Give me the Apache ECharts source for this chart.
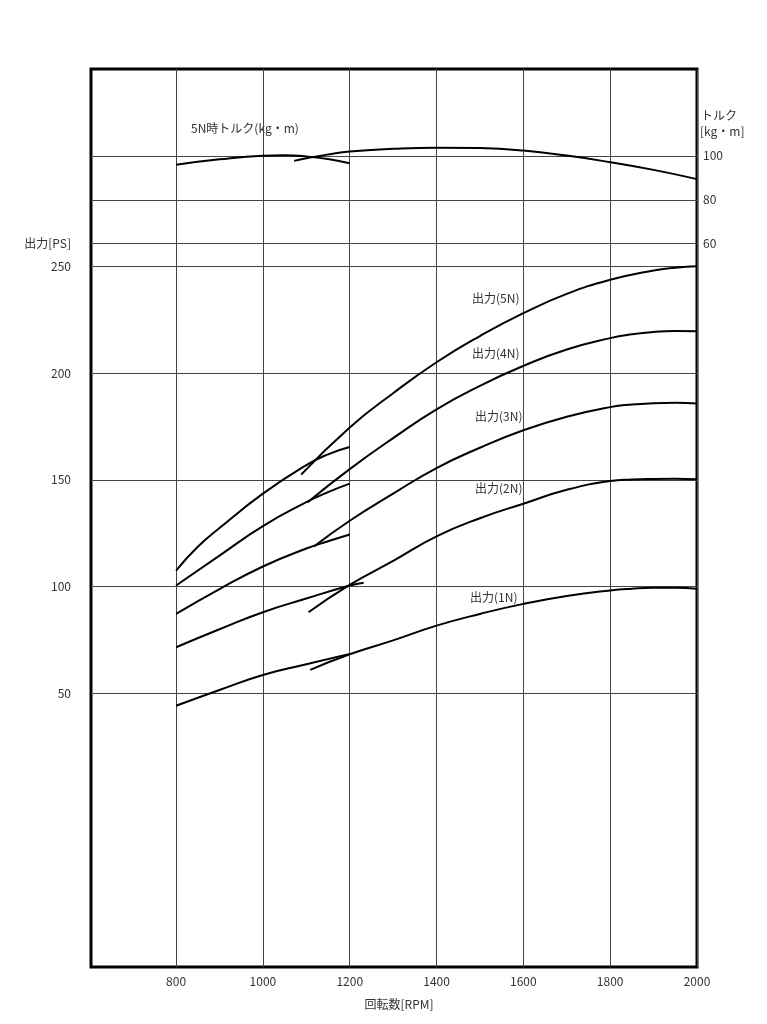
<!DOCTYPE html>
<html>
<head>
<meta charset="utf-8">
<script src="https://cdn.jsdelivr.net/npm/echarts@6/dist/echarts.min.js"></script>
<style>
  html, body { margin: 0; padding: 0; background: #fff; }
  #chart { width: 767px; height: 1024px; }
</style>
</head>
<body>
<div id="chart"></div>
<script>
// tick values
const rpmTicks = [800, 1000, 1200, 1400, 1600, 1800, 2000];
const psTicks = [50, 100, 150, 200, 250];
const torqueTicks = [60, 80, 100];

// torque at 5N (kg・m), two segments
const torqueLowRpm = [800, 900, 1000, 1050, 1100, 1150, 1200];
const torqueLow = [95.9, 98.4, 100.0, 100.2, 99.7, 98.5, 96.6];
const torqueHighRpm = [1072, 1100, 1150, 1200, 1300, 1400, 1500, 1600, 1700, 1800, 1900, 2000];
const torqueHigh = [97.7, 98.9, 100.6, 102.0, 103.2, 103.7, 103.5, 102.4, 100.1, 97.1, 93.6, 89.4];

// power (PS), low / high segments per notch
const p5LowRpm = [800, 850, 900, 1000, 1100, 1150, 1200];
const p5Low = [107.5, 118.6, 127.4, 143.5, 156.9, 161.9, 165.3];
const p5HighRpm = [1088, 1200, 1300, 1400, 1500, 1600, 1700, 1800, 1900, 1950, 2000];
const p5High = [152.4, 174.5, 190.5, 205, 217.3, 228.0, 237, 243.6, 248.0, 249.3, 250];

const p4LowRpm = [800, 900, 1000, 1100, 1150, 1200];
const p4Low = [100.5, 114.5, 128.3, 139.5, 144.2, 148.2];
const p4HighRpm = [1103, 1200, 1300, 1400, 1500, 1600, 1700, 1800, 1850, 1900, 1950, 2000];
const p4High = [139.5, 155, 169.5, 183, 194, 203.3, 211, 216.3, 218.1, 219.2, 219.6, 219.5];

const p3LowRpm = [800, 900, 1000, 1100, 1150, 1200];
const p3Low = [87.2, 98.8, 109.4, 117.8, 121.2, 124.4];
const p3HighRpm = [1118, 1200, 1300, 1400, 1500, 1600, 1700, 1800, 1850, 1900, 1950, 2000];
const p3High = [118.8, 130.8, 143.5, 155.5, 165, 173.2, 179.5, 184.0, 185.2, 185.8, 186.0, 185.7];

const p2LowRpm = [800, 900, 1000, 1100, 1200, 1232];
const p2Low = [71.6, 80.0, 88.0, 94.4, 100.5, 101.8];
const p2HighRpm = [1105, 1200, 1300, 1400, 1500, 1600, 1700, 1800, 1850, 1900, 1950, 2000];
const p2High = [88, 100.8, 112, 123.5, 132, 138.8, 145.3, 149.4, 150.1, 150.4, 150.5, 150.2];

const p1LowRpm = [800, 900, 1000, 1100, 1200];
const p1Low = [44.2, 51.6, 58.6, 63.6, 68.5];
const p1HighRpm = [1109, 1200, 1300, 1400, 1500, 1600, 1700, 1800, 1850, 1900, 1950, 2000];
const p1High = [61, 68.3, 74.8, 81.7, 87.2, 91.9, 95.6, 98.2, 99.0, 99.4, 99.4, 99.0];

const curveLabels = ['出力(5N)', '出力(4N)', '出力(3N)', '出力(2N)', '出力(1N)'];

const FONT = '"Noto Sans CJK JP", "Noto Sans", sans-serif';
const TEXT = '#333';
const GRID_LINE = { color: '#444', width: 1, type: 'solid' };

const zip = (xs, ys) => xs.map((x, i) => [x, ys[i]]);

const curve = (name, xs, ys, axis) => ({
  name,
  type: 'line',
  yAxisIndex: axis,
  data: zip(xs, ys),
  smooth: true,
  showSymbol: false,
  lineStyle: { color: '#000', width: 2 },
  z: 5
});

const chart = echarts.init(document.getElementById('chart'));

const series = [
  curve('t-low', torqueLowRpm, torqueLow, 1),
  curve('t-high', torqueHighRpm, torqueHigh, 1),
  curve('5n-low', p5LowRpm, p5Low, 0),
  curve('5n-high', p5HighRpm, p5High, 0),
  curve('4n-low', p4LowRpm, p4Low, 0),
  curve('4n-high', p4HighRpm, p4High, 0),
  curve('3n-low', p3LowRpm, p3Low, 0),
  curve('3n-high', p3HighRpm, p3High, 0),
  curve('2n-low', p2LowRpm, p2Low, 0),
  curve('2n-high', p2HighRpm, p2High, 0),
  curve('1n-low', p1LowRpm, p1Low, 0),
  curve('1n-high', p1HighRpm, p1High, 0)
];

// grid lines as mark lines
series.push({
  name: 'grid-ps',
  type: 'line',
  yAxisIndex: 0,
  data: [],
  z: 1,
  markLine: {
    silent: true,
    symbol: 'none',
    label: { show: false },
    lineStyle: GRID_LINE,
    data: rpmTicks.map(v => ({ xAxis: v })).concat(psTicks.map(v => ({ yAxis: v })))
  }
});
series.push({
  name: 'grid-torque',
  type: 'line',
  yAxisIndex: 1,
  data: [],
  z: 1,
  markLine: {
    silent: true,
    symbol: 'none',
    label: { show: false },
    lineStyle: GRID_LINE,
    data: torqueTicks.map(v => ({ yAxis: v }))
  }
});

const labelText = (text, x, y, align) => ({
  type: 'text',
  style: {
    text, x, y,
    textAlign: align || 'left',
    textVerticalAlign: 'middle',
    fill: TEXT,
    font: '12px ' + FONT
  }
});

chart.setOption({
  animation: false,
  backgroundColor: '#fff',
  textStyle: { fontFamily: FONT },
  grid: {
    left: 91, right: 70, top: 69, bottom: 57,
    show: true,
    borderColor: '#000',
    borderWidth: 3,
    backgroundColor: 'transparent'
  },
  xAxis: {
    type: 'value',
    min: 604,
    max: 2000,
    name: '回転数[RPM]',
    nameLocation: 'middle',
    nameGap: 31,
    nameTextStyle: { color: TEXT, fontSize: 12, padding: [0, 0, 0, 10] },
    axisLine: { show: false },
    axisTick: { show: false },
    splitLine: { show: false },
    axisLabel: {
      customValues: rpmTicks,
      formatter: v => String(v),
      color: TEXT, fontSize: 12, margin: 8
    }
  },
  yAxis: [
    {
      type: 'value',
      position: 'left',
      min: -78.1,
      max: 342.3,
      axisLine: { show: false },
      axisTick: { show: false },
      splitLine: { show: false },
      axisLabel: { customValues: psTicks, color: TEXT, fontSize: 12, margin: 20 }
    },
    {
      type: 'value',
      position: 'right',
      min: -269.1,
      max: 139.5,
      axisLine: { show: false },
      axisTick: { show: false },
      splitLine: { show: false },
      axisLabel: { customValues: torqueTicks, color: TEXT, fontSize: 12, margin: 6 }
    }
  ],
  series,
  graphic: [
    labelText('5N時トルク(kg・m)', 191, 128),
    labelText(curveLabels[0], 472, 298),
    labelText(curveLabels[1], 472, 353),
    labelText(curveLabels[2], 475, 416),
    labelText(curveLabels[3], 475, 488),
    labelText(curveLabels[4], 470, 597),
    labelText('出力[PS]', 71, 243, 'right'),
    labelText('トルク', 701, 115),
    labelText('[kg・m]', 700, 131)
  ]
});

window.addEventListener('resize', () => chart.resize());
</script>
</body>
</html>
